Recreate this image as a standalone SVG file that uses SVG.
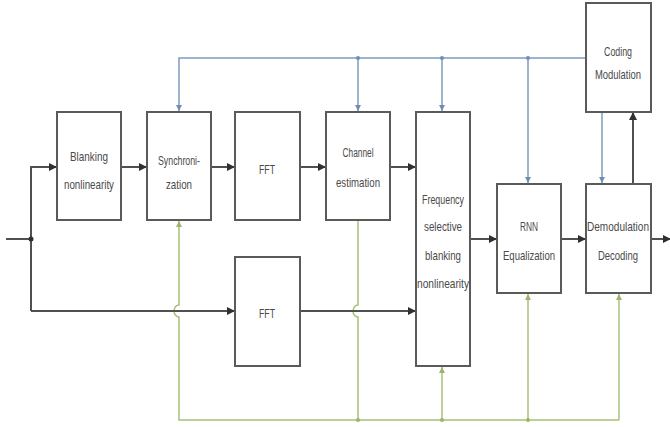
<svg xmlns="http://www.w3.org/2000/svg" width="670" height="427" viewBox="0 0 670 427">
<style>
.box{fill:#fff;stroke:#5a5a5a;stroke-width:2}
.t{font-family:"Liberation Sans",Arial,sans-serif;font-size:13px;fill:#4a4a4a;text-anchor:middle}
.k{fill:none;stroke:#505050;stroke-width:2}
.b{fill:none;stroke:#7f9bbd;stroke-width:1.5}
.g{fill:none;stroke:#a9c07a;stroke-width:1.5}
</style>
<defs>
<marker id="ak" markerWidth="8" markerHeight="8" refX="7" refY="4" orient="auto" markerUnits="userSpaceOnUse"><path d="M0,0 L8,4 L0,8 z" fill="#303030"/></marker>
<marker id="ab" markerWidth="6" markerHeight="6" refX="6" refY="3" orient="auto" markerUnits="userSpaceOnUse"><path d="M0,0 L6,3 L0,6 z" fill="#6f8eb5"/></marker>
<marker id="ag" markerWidth="6" markerHeight="6" refX="6" refY="3" orient="auto" markerUnits="userSpaceOnUse"><path d="M0,0 L6,3 L0,6 z" fill="#9db36c"/></marker>
</defs>
<rect width="670" height="427" fill="#fff"/>
<g id="connectors">
<path class="b" d="M586,58 H179 V111" marker-end="url(#ab)"/>
<path class="b" d="M358,58 V111" marker-end="url(#ab)"/>
<path class="b" d="M442,58 V111" marker-end="url(#ab)"/>
<path class="b" d="M528,58 V183" marker-end="url(#ab)"/>
<path class="b" d="M602,112 V183" marker-end="url(#ab)"/>
<circle cx="358" cy="58" r="2" fill="#6f8eb5"/>
<circle cx="442" cy="58" r="2" fill="#6f8eb5"/>
<circle cx="528" cy="58" r="2" fill="#6f8eb5"/>
<path class="g" d="M619,420 H179 V317 A5,6 0 0 1 179,305 V221" marker-end="url(#ag)"/>
<path class="g" d="M358,420 V317 A5,6 0 0 1 358,305 V221"/>
<path class="g" d="M442,420 V367" marker-end="url(#ag)"/>
<path class="g" d="M528,420 V294" marker-end="url(#ag)"/>
<path class="g" d="M619,420 V294" marker-end="url(#ag)"/>
<circle cx="358" cy="420" r="2" fill="#9db36c"/>
<circle cx="442" cy="420" r="2" fill="#9db36c"/>
<circle cx="528" cy="420" r="2" fill="#9db36c"/>
<path class="k" d="M6,239 H31"/>
<path class="k" d="M31,311 V167 H56" marker-end="url(#ak)"/>
<circle cx="31" cy="239" r="2.5" fill="#303030"/>
<path class="k" d="M121,167 H146" marker-end="url(#ak)"/>
<path class="k" d="M211,167 H234" marker-end="url(#ak)"/>
<path class="k" d="M300,167 H325" marker-end="url(#ak)"/>
<path class="k" d="M390,167 H415" marker-end="url(#ak)"/>
<path class="k" d="M31,311 H234" marker-end="url(#ak)"/>
<path class="k" d="M300,311 H415" marker-end="url(#ak)"/>
<path class="k" d="M470,239 H496" marker-end="url(#ak)"/>
<path class="k" d="M561,239 H585" marker-end="url(#ak)"/>
<path class="k" d="M651,239 H670" marker-end="url(#ak)"/>
<path class="k" d="M633,184 V113" marker-end="url(#ak)"/>
</g>
<g id="blanking">
<rect class="box" x="57" y="112" width="64" height="108"/>
<text class="t" x="89" y="161" textLength="38" lengthAdjust="spacingAndGlyphs">Blanking</text>
<text class="t" x="89" y="189" textLength="50" lengthAdjust="spacingAndGlyphs">nonlinearity</text>
</g>
<g id="sync">
<rect class="box" x="147" y="112" width="64" height="108"/>
<text class="t" x="179" y="165" textLength="42" lengthAdjust="spacingAndGlyphs">Synchroni-</text>
<text class="t" x="179" y="189" textLength="26" lengthAdjust="spacingAndGlyphs">zation</text>
</g>
<g id="fft1">
<rect class="box" x="235" y="112" width="65" height="108"/>
<text class="t" x="267" y="174" textLength="16" lengthAdjust="spacingAndGlyphs">FFT</text>
</g>
<g id="chest">
<rect class="box" x="326" y="112" width="64" height="108"/>
<text class="t" x="358" y="157" textLength="31" lengthAdjust="spacingAndGlyphs">Channel</text>
<text class="t" x="358" y="187" textLength="44" lengthAdjust="spacingAndGlyphs">estimation</text>
</g>
<g id="fsb">
<rect class="box" x="416" y="112" width="54" height="254"/>
<text class="t" x="443" y="204" textLength="42" lengthAdjust="spacingAndGlyphs">Frequency</text>
<text class="t" x="443" y="231" textLength="38" lengthAdjust="spacingAndGlyphs">selective</text>
<text class="t" x="443" y="260" textLength="36" lengthAdjust="spacingAndGlyphs">blanking</text>
<text class="t" x="443" y="288" textLength="52" lengthAdjust="spacingAndGlyphs">nonlinearity</text>
</g>
<g id="rnn">
<rect class="box" x="497" y="184" width="64" height="109"/>
<text class="t" x="529" y="231" textLength="18" lengthAdjust="spacingAndGlyphs">RNN</text>
<text class="t" x="529" y="260" textLength="52" lengthAdjust="spacingAndGlyphs">Equalization</text>
</g>
<g id="demod">
<rect class="box" x="586" y="184" width="65" height="109"/>
<text class="t" x="618" y="231" textLength="62" lengthAdjust="spacingAndGlyphs">Demodulation</text>
<text class="t" x="618" y="260" textLength="40" lengthAdjust="spacingAndGlyphs">Decoding</text>
</g>
<g id="codmod">
<rect class="box" x="586" y="3" width="65" height="109"/>
<text class="t" x="618" y="56" textLength="28" lengthAdjust="spacingAndGlyphs">Coding</text>
<text class="t" x="618" y="79" textLength="46" lengthAdjust="spacingAndGlyphs">Modulation</text>
</g>
<g id="fft2">
<rect class="box" x="235" y="257" width="65" height="109"/>
<text class="t" x="267" y="318" textLength="16" lengthAdjust="spacingAndGlyphs">FFT</text>
</g>
</svg>
